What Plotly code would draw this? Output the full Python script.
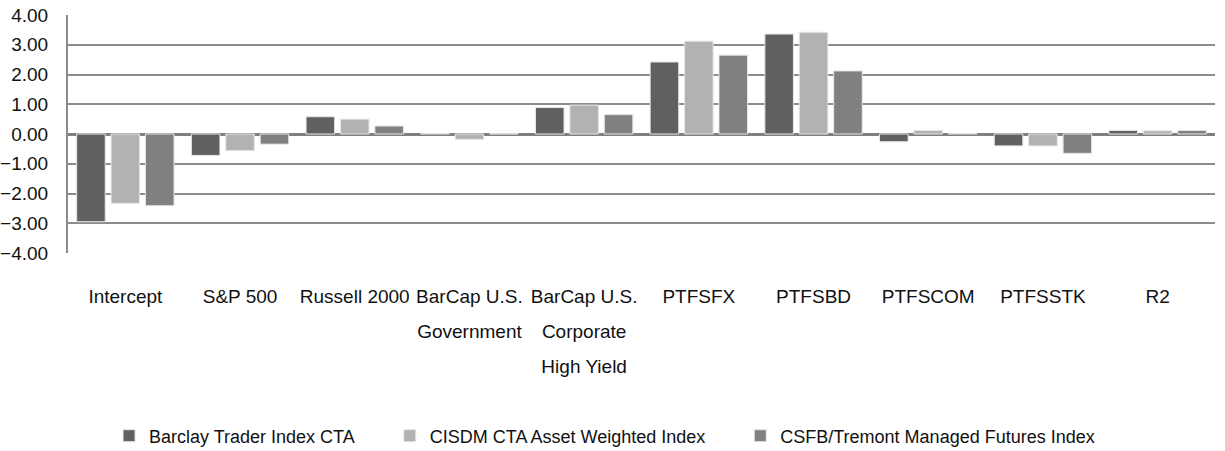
import plotly.graph_objects as go

categories = ["Intercept", "S&P 500", "Russell 2000", "BarCap U.S. Government",
              "BarCap U.S. Corporate High Yield", "PTFSFX", "PTFSBD",
              "PTFSCOM", "PTFSSTK", "R2"]
category_lines = [["Intercept"], ["S&P 500"], ["Russell 2000"], ["BarCap U.S.", "Government"],
                  ["BarCap U.S.", "Corporate", "High Yield"], ["PTFSFX"], ["PTFSBD"],
                  ["PTFSCOM"], ["PTFSSTK"], ["R2"]]
series_names = ["Barclay Trader Index CTA", "CISDM CTA Asset Weighted Index",
                "CSFB/Tremont Managed Futures Index"]
barclay = [-2.95, -0.72, 0.58, 0.02, 0.89, 2.42, 3.36, -0.26, -0.40, 0.12]
cisdm = [-2.33, -0.56, 0.50, -0.18, 0.97, 3.12, 3.42, 0.12, -0.40, 0.11]
csfb = [-2.41, -0.34, 0.27, 0.01, 0.65, 2.65, 2.12, 0.02, -0.65, 0.12]
y_ticks = [-4, -3, -2, -1, 0, 1, 2, 3, 4]

colors = ["#606060", "#b2b2b2", "#808080"]
FONT = "Liberation Sans, Arial, sans-serif"
TXT = "#111111"

ticktext = ["<br>".join('<span style="font-size:19px">%s</span>' % ln for ln in lines)
            for lines in category_lines]
legend_pad = "&nbsp;" * 6

fig = go.Figure()
for i, (name, vals, col) in enumerate(zip(series_names, [barclay, cisdm, csfb], colors)):
    fig.add_trace(go.Bar(
        x=categories, y=vals, name=name + (legend_pad if i < len(series_names) - 1 else ""),
        marker=dict(color=col, line=dict(color="#e6e6e6", width=1)),
    ))

fig.update_layout(
    width=1225, height=451,
    margin=dict(l=68, r=10, t=15, b=198, autoexpand=False),
    paper_bgcolor="white", plot_bgcolor="white",
    barmode="group", bargap=0.10, bargroupgap=0.17,
    font=dict(family=FONT, size=19, color=TXT),
    showlegend=True,
    legend=dict(orientation="h", xref="container", yref="container",
                x=0.4935, xanchor="center", y=1 - 436 / 451, yanchor="middle",
                font=dict(family=FONT, size=18, color=TXT),
                itemwidth=30, traceorder="normal"),
)
fig.update_xaxes(
    automargin=False,
    showgrid=False, showline=False, zeroline=False, ticks="",
    tickvals=categories, ticktext=ticktext,
    tickfont=dict(family=FONT, size=27, color=TXT), ticklabelstandoff=22,
    tickangle=0,
)
fig.update_yaxes(
    automargin=False,
    range=[-4, 4], tickvals=y_ticks, tickformat=".2f",
    showgrid=True, gridcolor="#8c8c8c", gridwidth=2,
    zeroline=True, zerolinecolor="#808080", zerolinewidth=3,
    showline=True, linecolor="#8c8c8c", linewidth=2,
    ticks="", ticklabelstandoff=14,
    tickfont=dict(family=FONT, size=19, color=TXT),
)
fig.write_html("out.html", config={"displayModeBar": False},
               post_script="document.body.style.margin='0';")
